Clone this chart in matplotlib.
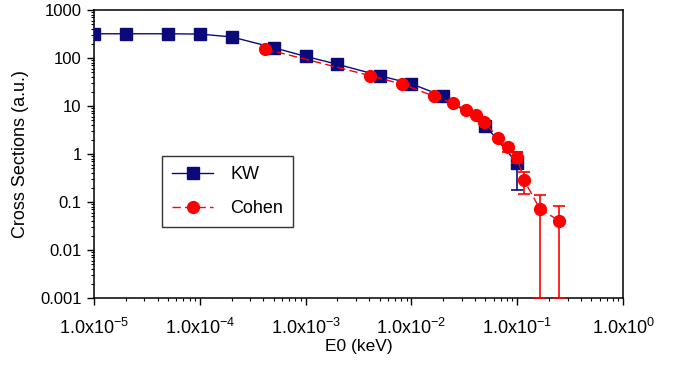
import matplotlib

matplotlib.use("Agg")
import matplotlib.pyplot as plt
from matplotlib.ticker import LogLocator, NullFormatter, FixedLocator

plt.rcParams["font.family"] = ["Liberation Sans", "DejaVu Sans"]
plt.rcParams["mathtext.fontset"] = "custom"
plt.rcParams["mathtext.rm"] = "Liberation Sans"
plt.rcParams["mathtext.it"] = "Liberation Sans"

# KW data
kw_e0 = [1e-5, 2e-5, 5e-5, 1e-4, 2e-4, 5e-4, 1e-3, 2e-3, 5e-3, 1e-2, 2e-2, 5e-2, 1e-1]
kw_cs = [320, 320, 320, 315, 275, 164, 108, 74, 43, 29, 16, 3.9, 0.64]
kw_err = [0, 0, 0, 0, 0, 0, 0, 0, 0, 0, 0, 0.9, 0.46]

# Cohen data
cohen_e0 = [4.1e-4, 4.06e-3, 8.1e-3, 1.64e-2, 2.45e-2, 3.28e-2, 4.08e-2, 4.89e-2,
            6.58e-2, 8.24e-2, 9.9e-2, 0.116, 0.164, 0.248]
cohen_cs = [155, 43, 28.7, 16, 11.4, 8.3, 6.5, 4.6, 2.2, 1.38, 0.88, 0.287, 0.0714, 0.041]
cohen_err = [0, 0, 0, 0, 0, 0, 0, 0, 0, 0.26, 0.24, 0.14, 0.0704, 0.040]

x_ticks = [1e-5, 1e-4, 1e-3, 1e-2, 1e-1, 1e0]
x_labels = [r"$\mathregular{1.0x10^{-5}}$", r"$\mathregular{1.0x10^{-4}}$",
            r"$\mathregular{1.0x10^{-3}}$", r"$\mathregular{1.0x10^{-2}}$",
            r"$\mathregular{1.0x10^{-1}}$", r"$\mathregular{1.0x10^{0}}$"]
y_ticks = [1e-3, 1e-2, 1e-1, 1, 10, 100, 1000]
y_labels = ["0.001", "0.01", "0.1", "1", "10", "100", "1000"]

navy = "#0c0a7a"
red = "#ff0000"

fig = plt.figure(figsize=(6.83, 3.70), dpi=100)
ax = fig.add_axes([94 / 683, 1 - 298 / 370, (623 - 94) / 683, (298 - 10) / 370])

ax.errorbar(kw_e0, kw_cs, yerr=kw_err, color=navy, lw=1.0, marker="s", ms=8.5,
            mfc=navy, mec=navy, capsize=4, elinewidth=1.2, capthick=1.2, label="KW", zorder=3)
ax.errorbar(cohen_e0, cohen_cs, yerr=cohen_err, color=red, lw=1.0, ls=(0, (6, 3)), marker="o",
            ms=8.5, mfc=red, mec=red, capsize=4, elinewidth=1.2, capthick=1.2,
            label="Cohen", zorder=4)

ax.set_xscale("log")
ax.set_yscale("log")
ax.set_xlim(1e-5, 1e0)
ax.set_ylim(1e-3, 1e3)

ax.xaxis.set_major_locator(FixedLocator(x_ticks))
ax.set_xticklabels(x_labels)
ax.yaxis.set_major_locator(FixedLocator(y_ticks))
ax.set_yticklabels(y_labels)
ax.xaxis.set_minor_locator(LogLocator(base=10, subs=range(2, 10), numticks=20))
ax.yaxis.set_minor_locator(LogLocator(base=10, subs=range(2, 10), numticks=20))
ax.xaxis.set_minor_formatter(NullFormatter())
ax.yaxis.set_minor_formatter(NullFormatter())

ax.tick_params(which="major", direction="out", length=5, width=1.0)
ax.tick_params(which="minor", direction="out", length=2.5, width=0.8)
ax.tick_params(axis="x", which="major", pad=9, labelsize=13)
ax.tick_params(axis="y", which="major", pad=4, labelsize=12)
for s in ax.spines.values():
    s.set_linewidth(1.1)

ax.set_xlabel("E0 (keV)", fontsize=12.5)
ax.xaxis.set_label_coords(0.5, -(346 - 298) / 288)
ax.xaxis.label.set_va("center")
ax.set_ylabel("Cross Sections (a.u.)", fontsize=13)
ax.yaxis.set_label_coords(-(94 - 21) / 529, 0.5)
ax.yaxis.label.set_va("center")

handles, labels = ax.get_legend_handles_labels()
handles = [h[0] for h in handles]
leg = ax.legend(handles, labels, loc="upper left",
                bbox_to_anchor=((162 - 94) / 529, 1 - (156 - 10) / 288), borderaxespad=0,
                fontsize=13, frameon=True, fancybox=False, edgecolor="black",
                handlelength=2.3, borderpad=0.55, labelspacing=0.95, handletextpad=0.95)
leg.get_frame().set_linewidth(1.0)

fig.savefig("out.png", dpi=100)
